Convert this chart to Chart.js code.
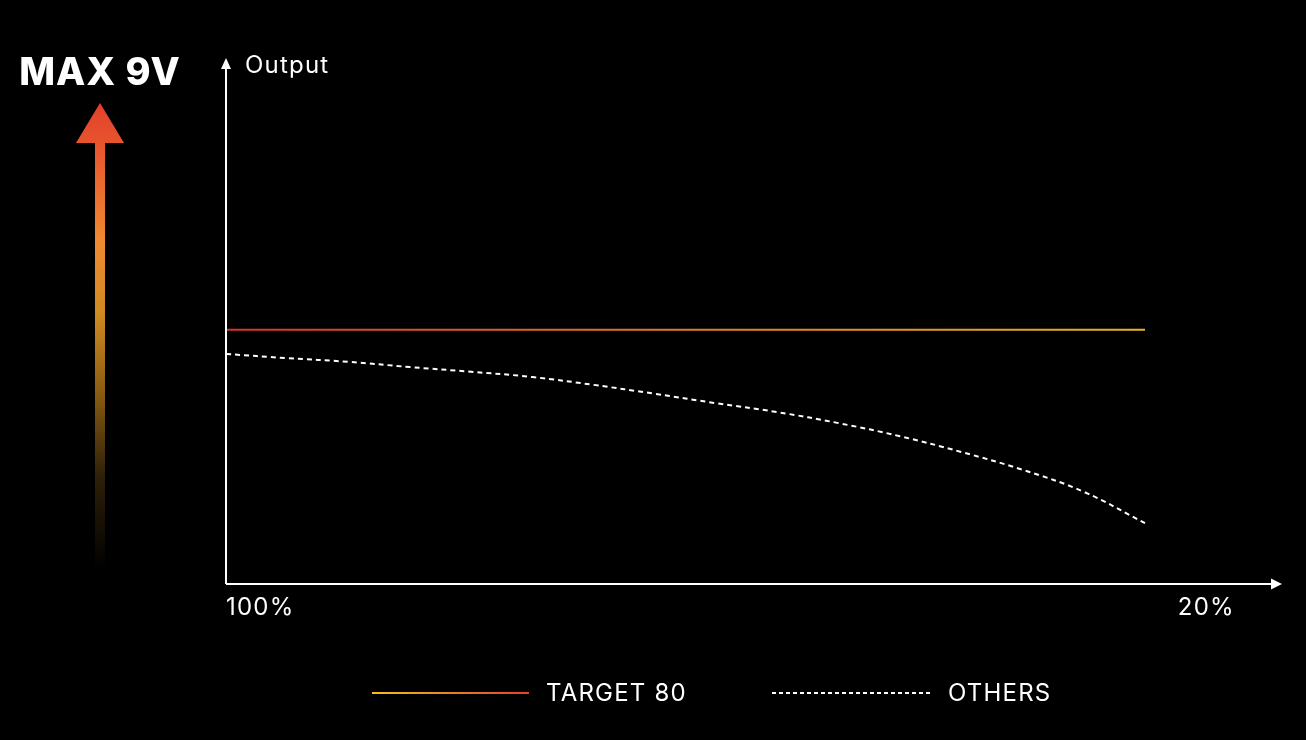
<!DOCTYPE html>
<html>
<head>
<meta charset="utf-8">
<script src="https://cdn.jsdelivr.net/npm/chart.js@4.4.1/dist/chart.umd.min.js"></script>
<style>
  html, body { margin: 0; padding: 0; background: #000; }
  #wrap { width: 1306px; height: 740px; position: relative; }
</style>
</head>
<body>
<div id="wrap"><canvas id="outputChart"></canvas></div>
<script>
// battery level (%) on x, output on y (arbitrary units, 0-100)
const batteryLevels = [100, 95, 90, 85, 80, 75, 70, 65, 60, 55, 50, 45, 40, 35, 30, 25];
const target80Output = [48.5, 48.5, 48.5, 48.5, 48.5, 48.5, 48.5, 48.5, 48.5, 48.5, 48.5, 48.5, 48.5, 48.5, 48.5, 48.5];
const othersOutput = [43.9, 43.1, 42.4, 41.4, 40.5, 39.5, 38.0, 36.3, 34.5, 32.8, 30.7, 28.2, 25.2, 21.8, 17.6, 11.6];
const xTickValues = [100, 20];
const xTickLabels = ['100%', '20%'];
const seriesNames = ['TARGET 80', 'OTHERS'];

const FONT = 'Inter, "Open Sans", sans-serif';

const toPoints = (ys) => ys.map((y, i) => ({ x: batteryLevels[i], y: y }));

// gradient for the target line, red at full battery -> yellow at the end
const targetGradient = (context) => {
  const chart = context.chart;
  const { ctx, chartArea, scales } = chart;
  if (!chartArea) return '#e0602a';
  const x0 = scales.x.getPixelForValue(batteryLevels[0]);
  const x1 = scales.x.getPixelForValue(batteryLevels[batteryLevels.length - 1]);
  const g = ctx.createLinearGradient(x0, 0, x1, 0);
  g.addColorStop(0, '#d4352b');
  g.addColorStop(0.45, '#e0742a');
  g.addColorStop(1, '#e8b422');
  return g;
};

const decorations = {
  id: 'decorations',
  afterDraw(chart) {
    const { ctx, chartArea, scales } = chart;
    const left = chartArea.left;
    const bottom = chartArea.bottom;
    ctx.save();

    // axes with arrow heads
    ctx.strokeStyle = '#ffffff';
    ctx.fillStyle = '#ffffff';
    ctx.lineWidth = 2;
    ctx.beginPath();
    ctx.moveTo(left, bottom);
    ctx.lineTo(left, chartArea.top + 8);
    ctx.moveTo(left, bottom);
    ctx.lineTo(chartArea.right + 2, bottom);
    ctx.stroke();
    ctx.beginPath();
    ctx.moveTo(left, chartArea.top - 2);
    ctx.lineTo(left - 5, chartArea.top + 9);
    ctx.lineTo(left + 5, chartArea.top + 9);
    ctx.closePath();
    ctx.fill();
    ctx.beginPath();
    ctx.moveTo(chartArea.right + 12, bottom);
    ctx.lineTo(chartArea.right + 1, bottom - 5.5);
    ctx.lineTo(chartArea.right + 1, bottom + 5.5);
    ctx.closePath();
    ctx.fill();

    // axis texts
    ctx.font = '400 24px ' + FONT;
    ctx.letterSpacing = '1.2px';
    ctx.textBaseline = 'middle';
    ctx.textAlign = 'left';
    ctx.fillText('Output', left + 19, chartArea.top + 6);
    xTickLabels.forEach((lbl, i) => {
      const px = scales.x.getPixelForValue(xTickValues[i]);
      ctx.textAlign = i === 0 ? 'left' : 'center';
      ctx.fillText(lbl, px, bottom + 24);
    });

    // legend
    const ly = 693;
    const lg = ctx.createLinearGradient(372, 0, 529, 0);
    lg.addColorStop(0, '#f2c21e');
    lg.addColorStop(1, '#e2402c');
    ctx.strokeStyle = lg;
    ctx.lineWidth = 2;
    ctx.beginPath();
    ctx.moveTo(372, ly);
    ctx.lineTo(529, ly);
    ctx.stroke();
    ctx.strokeStyle = '#ffffff';
    ctx.setLineDash([4, 3]);
    ctx.beginPath();
    ctx.moveTo(772, ly);
    ctx.lineTo(930, ly);
    ctx.stroke();
    ctx.setLineDash([]);
    ctx.textAlign = 'left';
    ctx.fillText(seriesNames[0], 546, ly + 1);
    ctx.fillText(seriesNames[1], 948, ly + 1);

    // "MAX 9V" gradient arrow on the left
    const ax = 100;
    const ag = ctx.createLinearGradient(0, 103, 0, 570);
    ag.addColorStop(0, '#e2402c');
    ag.addColorStop(0.1, '#e8582e');
    ag.addColorStop(0.3, '#f08a30');
    ag.addColorStop(0.45, '#d08a22');
    ag.addColorStop(0.62, '#8a5c12');
    ag.addColorStop(0.8, '#2e2008');
    ag.addColorStop(1, '#000000');
    ctx.fillStyle = ag;
    ctx.beginPath();
    ctx.moveTo(ax, 103);
    ctx.lineTo(ax + 24, 143);
    ctx.lineTo(ax + 5, 143);
    ctx.lineTo(ax + 5, 570);
    ctx.lineTo(ax - 5, 570);
    ctx.lineTo(ax - 5, 143);
    ctx.lineTo(ax - 24, 143);
    ctx.closePath();
    ctx.fill();

    ctx.fillStyle = '#ffffff';
    ctx.font = '800 38px ' + FONT;
    ctx.letterSpacing = '1px';
    ctx.textAlign = 'center';
    ctx.fillText('MAX 9V', ax, 74);
    ctx.restore();
  }
};

new Chart(document.getElementById('outputChart'), {
  type: 'line',
  data: {
    datasets: [
      {
        label: seriesNames[0],
        data: toPoints(target80Output),
        borderColor: targetGradient,
        borderWidth: 2,
        pointRadius: 0,
        tension: 0,
      },
      {
        label: seriesNames[1],
        data: toPoints(othersOutput),
        borderColor: '#ffffff',
        borderWidth: 2,
        borderDash: [5, 4],
        pointRadius: 0,
        tension: 0.4,
      },
    ],
  },
  options: {
    responsive: true,
    maintainAspectRatio: false,
    animation: false,
    layout: { padding: { left: 226, right: 36, top: 60, bottom: 156 } },
    scales: {
      x: { type: 'linear', reverse: true, min: 14.8, max: 100, display: false },
      y: { min: 0, max: 100, display: false },
    },
    plugins: {
      legend: { display: false },
      tooltip: { enabled: false },
    },
  },
  plugins: [decorations],
});
</script>
</body>
</html>
